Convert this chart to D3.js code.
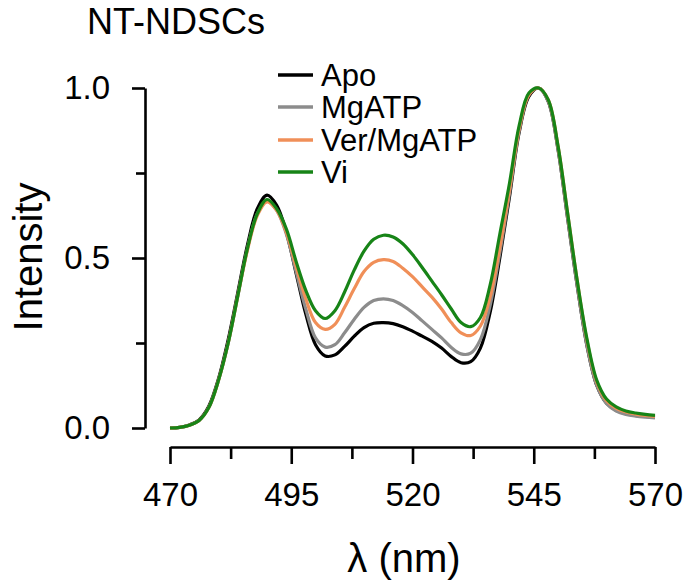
<!DOCTYPE html>
<html>
<head>
<meta charset="utf-8">
<script src="https://cdn.jsdelivr.net/npm/d3@7"></script>
<style>
  html, body { margin: 0; padding: 0; background: #fff; }
  svg { display: block; font-family: "Liberation Sans", Arial, sans-serif; }
</style>
</head>
<body>
<svg id="chart" width="689" height="586"></svg>
<script>
// ---- data ----
const wavelengths = d3.range(470, 571, 2);
const seriesNames = ["Apo", "MgATP", "Ver/MgATP", "Vi"];
const apo = [0, .002, .009, .024, .064, .145, .26, .40, .54, .645, .685, .655, .575, .455, .335, .245, .212, .215, .24, .27, .295, .308, .31, .307, .298, .285, .27, .255, .235, .21, .192, .195, .235, .34, .50, .68, .87, .975, 1.0, .96, .82, .615, .415, .24, .125, .073, .052, .042, .037, .034, .032];
const mgatp = [0, .002, .008, .022, .06, .14, .25, .39, .53, .63, .668, .64, .57, .46, .35, .265, .238, .245, .28, .32, .355, .375, .38, .375, .36, .34, .315, .29, .265, .237, .218, .22, .26, .36, .515, .69, .875, .98, 1.0, .96, .82, .615, .415, .24, .125, .072, .05, .04, .035, .032, .03];
const verMgatp = [0, .002, .008, .022, .06, .14, .25, .39, .525, .625, .665, .64, .575, .475, .38, .31, .29, .305, .355, .41, .46, .487, .495, .49, .47, .445, .415, .385, .35, .31, .28, .272, .30, .385, .53, .70, .88, .98, 1.0, .965, .83, .63, .43, .255, .135, .08, .058, .047, .041, .037, .034];
const vi = [0, .002, .008, .022, .06, .14, .25, .39, .53, .63, .672, .645, .585, .49, .405, .345, .322, .345, .40, .465, .52, .555, .567, .562, .542, .51, .472, .432, .392, .35, .31, .298, .325, .42, .57, .72, .89, .985, 1.0, .965, .83, .63, .43, .26, .14, .085, .062, .05, .044, .04, .037];
const seriesValues = [apo, mgatp, verMgatp, vi];
const seriesColors = ["#000000", "#8c8c8c", "#f08f58", "#178417"];
const xTicks = [470, 495, 520, 545, 570];
const xMinorTicks = [482.5, 507.5, 532.5, 557.5];
const yTicks = [0, 0.5, 1.0];
const yMinorTicks = [0.25, 0.75];
const titleText = "NT-NDSCs";
const xLabel = "λ (nm)";
const yLabel = "Intensity";

// ---- layout ----
const svg = d3.select("#chart");
const x = d3.scaleLinear().domain([470, 570]).range([170, 655]);
const y = d3.scaleLinear().domain([0, 1]).range([428, 88]);
const yAxisX = 145;
const xAxisY = 447;

// Title
svg.append("text").attr("x", 87).attr("y", 34)
  .attr("font-size", 36).attr("fill", "#000").text(titleText);

// Y axis (major + minor)
svg.append("g").attr("transform", `translate(${yAxisX},0)`)
  .call(d3.axisLeft(y).tickValues(yTicks).tickSize(13).tickSizeOuter(0)
    .tickPadding(22).tickFormat(d3.format(".1f")));
svg.append("g").attr("transform", `translate(${yAxisX},0)`)
  .call(d3.axisLeft(y).tickValues(yMinorTicks).tickSize(9).tickSizeOuter(0).tickFormat(""))
  .call(g => g.select(".domain").remove());

// X axis (major + minor)
svg.append("g").attr("transform", `translate(0,${xAxisY})`)
  .call(d3.axisBottom(x).tickValues(xTicks).tickSize(17).tickSizeOuter(0)
    .tickPadding(19).tickFormat(d3.format("d")));
svg.append("g").attr("transform", `translate(0,${xAxisY})`)
  .call(d3.axisBottom(x).tickValues(xMinorTicks).tickSize(12).tickSizeOuter(0).tickFormat(""))
  .call(g => g.select(".domain").remove());

svg.selectAll(".domain, .tick line").attr("stroke", "#000").attr("stroke-width", 2.6);
svg.selectAll(".tick text").attr("font-size", 33).attr("fill", "#000")
  .attr("font-family", "'Liberation Sans', Arial, sans-serif");

// Axis labels
svg.append("text")
  .attr("transform", `translate(42,257) rotate(-90)`)
  .attr("text-anchor", "middle").attr("font-size", 40).attr("fill", "#000")
  .text(yLabel);
svg.append("text")
  .attr("x", 404).attr("y", 572).attr("text-anchor", "middle")
  .attr("font-size", 40).attr("fill", "#000").text(xLabel);

// Curves
const line = d3.line()
  .x((d, i) => x(wavelengths[i]))
  .y(d => y(d))
  .curve(d3.curveCatmullRom.alpha(0.5));
seriesValues.forEach((vals, k) => {
  svg.append("path").datum(vals)
    .attr("d", line)
    .attr("fill", "none")
    .attr("stroke", seriesColors[k])
    .attr("stroke-width", 3.2)
    .attr("stroke-linejoin", "round");
});

// Legend
const legendY = [75, 107, 140, 172];
seriesNames.forEach((name, k) => {
  svg.append("line")
    .attr("x1", 278).attr("x2", 313)
    .attr("y1", legendY[k]).attr("y2", legendY[k])
    .attr("stroke", seriesColors[k]).attr("stroke-width", 3.5);
  svg.append("text")
    .attr("x", 321).attr("y", legendY[k]).attr("dy", "0.36em")
    .attr("font-size", 31).attr("fill", "#000").text(name);
});
</script>
</body>
</html>
